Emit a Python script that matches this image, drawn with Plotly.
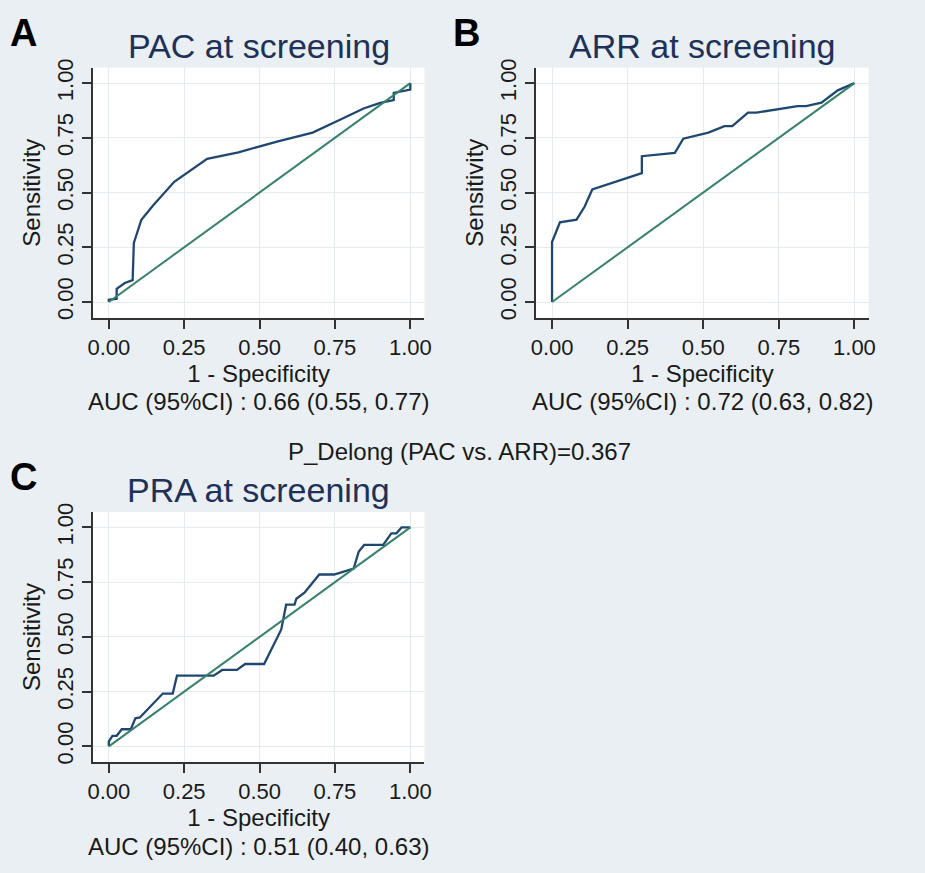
import plotly.graph_objects as go

# ---- data ----
pac_fpr = [0.0, 0.0, 0.026, 0.026, 0.053, 0.079, 0.083, 0.108, 0.146, 0.217, 0.326, 0.43, 0.561, 0.676, 0.758, 0.845, 0.90, 0.945, 0.945, 1.0, 1.0]
pac_tpr = [0.0, 0.01, 0.015, 0.06, 0.087, 0.10, 0.27, 0.376, 0.44, 0.549, 0.654, 0.684, 0.734, 0.774, 0.827, 0.884, 0.91, 0.922, 0.955, 0.97, 1.0]

arr_fpr = [0.0, 0.0, 0.026, 0.081, 0.108, 0.133, 0.297, 0.297, 0.406, 0.434, 0.517, 0.570, 0.596, 0.648, 0.676, 0.758, 0.812, 0.840, 0.891, 0.945, 1.0]
arr_tpr = [0.0, 0.274, 0.364, 0.376, 0.436, 0.514, 0.589, 0.666, 0.681, 0.746, 0.774, 0.803, 0.803, 0.865, 0.865, 0.884, 0.895, 0.895, 0.911, 0.967, 1.0]

pra_fpr = [0.0, 0.0, 0.012, 0.026, 0.043, 0.073, 0.088, 0.103, 0.179, 0.212, 0.226, 0.321, 0.348, 0.376, 0.425, 0.452, 0.515, 0.572, 0.588, 0.616, 0.622, 0.649, 0.698, 0.747, 0.812, 0.829, 0.847, 0.910, 0.937, 0.954, 0.971, 1.0]
pra_tpr = [0.0, 0.023, 0.048, 0.048, 0.078, 0.078, 0.128, 0.132, 0.241, 0.241, 0.323, 0.323, 0.323, 0.349, 0.349, 0.376, 0.376, 0.534, 0.647, 0.647, 0.674, 0.702, 0.785, 0.785, 0.812, 0.890, 0.920, 0.920, 0.973, 0.973, 1.0, 1.0]

ref_line = [0.0, 1.0]
tick_vals = [0.0, 0.25, 0.5, 0.75, 1.0]
tick_text = ["0.00", "0.25", "0.50", "0.75", "1.00"]

panels = ["A", "B", "C"]
titles = ["PAC at screening", "ARR at screening", "PRA at screening"]
auc_texts = ["AUC (95%CI) : 0.66 (0.55, 0.77)",
             "AUC (95%CI) : 0.72 (0.63, 0.82)",
             "AUC (95%CI) : 0.51 (0.40, 0.63)"]
delong_text = "P_Delong (PAC vs. ARR)=0.367"

# ---- styling ----
W, H = 925, 873
BG = "#e9eff2"
CURVE = "#1f4770"
DIAG = "#36806c"
TXT = "#1a1a1a"
TITLE_C = "#1e3259"
FONT = "Arial, Liberation Sans, sans-serif"

# panel boxes in pixels: (left, right, top, bottom)
boxes = [(89, 425, 59.3, 312.7), (538, 875, 59.3, 312.7), (89, 425, 509.3, 762.7)]

fig = go.Figure()
curves = [(pac_fpr, pac_tpr), (arr_fpr, arr_tpr), (pra_fpr, pra_tpr)]
for i, (fx, ty) in enumerate(curves):
    sfx = "" if i == 0 else str(i + 1)
    fig.add_trace(go.Scatter(x=fx, y=ty, mode="lines", line=dict(color=CURVE, width=2.3),
                             xaxis="x" + sfx, yaxis="y" + sfx, showlegend=False))
    fig.add_trace(go.Scatter(x=ref_line, y=ref_line, mode="lines", line=dict(color=DIAG, width=2),
                             xaxis="x" + sfx, yaxis="y" + sfx, showlegend=False))

layout = dict(width=W, height=H, margin=dict(l=0, r=0, t=0, b=0),
              paper_bgcolor=BG, plot_bgcolor="white", font=dict(family=FONT, color=TXT),
              showlegend=False)

annotations = []
for i, (l, r, t, b) in enumerate(boxes):
    sfx = "" if i == 0 else str(i + 1)
    xd = [l / W, r / W]
    yd = [1 - b / H, 1 - t / H]
    common = dict(showgrid=True, gridcolor="#e4ebee", gridwidth=1.2, zeroline=False,
                  showline=True, linecolor="#333333", linewidth=1.5,
                  ticks="outside", ticklen=9, tickwidth=1.5, tickcolor="#333333",
                  tickvals=tick_vals, ticktext=tick_text,
                  tickfont=dict(size=22, color=TXT, family=FONT))
    layout["xaxis" + sfx] = dict(common, domain=xd, range=[-0.053, 1.047], anchor="y" + sfx,
                                 title=dict(text="1 - Specificity", font=dict(size=24, color=TXT), standoff=1))
    layout["yaxis" + sfx] = dict(common, domain=yd, range=[-0.072, 1.071], anchor="x" + sfx,
                                 tickangle=-90,
                                 title=dict(text="Sensitivity", font=dict(size=24, color=TXT), standoff=6))
    cx = (l + r) / 2 / W
    annotations.append(dict(text=titles[i], x=cx, y=1 - (t - 22) / H, xref="paper", yref="paper",
                            xanchor="center", yanchor="middle", showarrow=False,
                            font=dict(size=34, color=TITLE_C, family=FONT)))
    annotations.append(dict(text=auc_texts[i], x=cx, y=1 - (b + 85) / H, xref="paper", yref="paper",
                            xanchor="center", yanchor="middle", showarrow=False,
                            font=dict(size=24, color=TXT, family=FONT)))
    annotations.append(dict(text="<b>%s</b>" % panels[i], x=(l - 70) / W, y=1 - (t - 35) / H,
                            xref="paper", yref="paper", xanchor="center", yanchor="middle",
                            showarrow=False, font=dict(size=38, color="black", family=FONT)))

annotations.append(dict(text=delong_text, x=460.5 / W, y=1 - 448 / H, xref="paper", yref="paper",
                        xanchor="center", yanchor="middle", showarrow=False,
                        font=dict(size=24, color=TXT, family=FONT)))
layout["annotations"] = annotations
fig.update_layout(**layout)
fig.write_html("out.html", config={"displayModeBar": False},
               post_script="document.body.style.margin='0';document.body.style.overflow='hidden';document.body.style.background='%s';" % BG)
